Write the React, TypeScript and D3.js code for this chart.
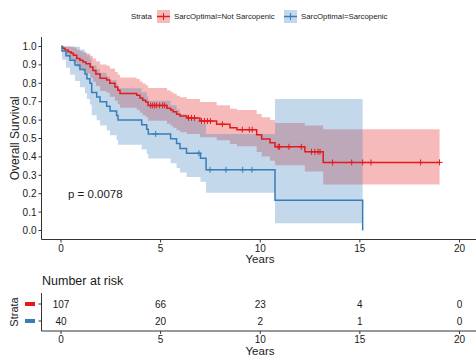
import React from "react";
import * as d3 from "d3";

// ---- Data ----
const notTimes = [0, 0.08, 0.2, 0.35, 0.5, 0.62, 0.79, 0.95, 1.1, 1.25, 1.46, 1.6, 1.75, 1.96, 2.29, 2.45, 2.71, 2.85, 2.96, 3.8, 3.96, 4.1, 4.25, 4.37, 5.32, 5.5, 5.62, 5.8, 5.97, 6.32, 6.97, 7.81, 8.48, 8.83, 9.82, 10.07, 10.49, 10.74, 12.24, 13.16];
const notSurv = [1, 0.991, 0.981, 0.972, 0.963, 0.953, 0.935, 0.925, 0.916, 0.906, 0.888, 0.869, 0.85, 0.827, 0.818, 0.8, 0.78, 0.762, 0.745, 0.735, 0.72, 0.708, 0.698, 0.68, 0.665, 0.655, 0.645, 0.632, 0.622, 0.612, 0.595, 0.578, 0.558, 0.548, 0.52, 0.497, 0.477, 0.455, 0.428, 0.37];
const notUpper = [1, 1, 1, 1, 0.999, 0.994, 0.983, 0.976, 0.969, 0.962, 0.95, 0.935, 0.92, 0.902, 0.895, 0.88, 0.862, 0.846, 0.832, 0.823, 0.81, 0.799, 0.79, 0.774, 0.762, 0.754, 0.745, 0.733, 0.724, 0.715, 0.698, 0.681, 0.662, 0.655, 0.633, 0.615, 0.6, 0.584, 0.571, 0.55];
const notLower = [1, 0.973, 0.956, 0.941, 0.928, 0.914, 0.889, 0.877, 0.866, 0.853, 0.83, 0.808, 0.786, 0.758, 0.748, 0.727, 0.705, 0.686, 0.667, 0.656, 0.64, 0.627, 0.616, 0.597, 0.58, 0.569, 0.558, 0.545, 0.534, 0.524, 0.507, 0.49, 0.47, 0.458, 0.427, 0.402, 0.379, 0.355, 0.321, 0.25];
const notEnd = 19.0;
const notCensor = [4.5, 4.6, 4.7, 4.8, 4.95, 5.1, 5.2, 6.4, 6.55, 6.7, 7.05, 7.2, 7.35, 7.5, 8.1, 9.1, 9.45, 9.6, 10.9, 10.97, 11.44, 12.06, 12.57, 12.74, 12.9, 13.0, 13.63, 14.59, 15.14, 15.56, 18.05, 19.0];

const sarcTimes = [0, 0.05, 0.25, 0.45, 0.7, 0.95, 1.2, 1.3, 1.45, 1.54, 1.79, 1.96, 2.29, 2.46, 2.79, 2.86, 4.05, 4.3, 4.38, 5.5, 5.8, 5.97, 6.3, 7.0, 7.28, 10.74];
const sarcSurv = [1, 0.975, 0.95, 0.925, 0.9, 0.875, 0.85, 0.825, 0.8, 0.75, 0.725, 0.7, 0.675, 0.65, 0.625, 0.6, 0.575, 0.55, 0.525, 0.499, 0.4725, 0.446, 0.42, 0.392, 0.33, 0.165];
const sarcUpper = [1, 1, 1, 1, 0.998, 0.984, 0.968, 0.952, 0.934, 0.897, 0.877, 0.857, 0.837, 0.816, 0.795, 0.773, 0.751, 0.728, 0.705, 0.681, 0.657, 0.632, 0.606, 0.58, 0.525, 0.715];
const sarcLower = [1, 0.928, 0.885, 0.847, 0.812, 0.778, 0.746, 0.715, 0.685, 0.627, 0.599, 0.571, 0.544, 0.518, 0.492, 0.466, 0.44, 0.416, 0.391, 0.365, 0.34, 0.315, 0.291, 0.265, 0.205, 0.04];
const sarcEnd = 15.14;
const sarcEndSurv = 0;
const sarcCensor = [4.75, 6.92, 7.48, 8.28, 9.12, 9.58];

const xTicks = [0, 5, 10, 15, 20];
const yTicks = [0, 0.1, 0.2, 0.3, 0.4, 0.5, 0.6, 0.7, 0.8, 0.9, 1.0];
const riskTimes = [0, 5, 10, 15, 20];
const riskNot = [107, 66, 23, 4, 0];
const riskSarc = [40, 20, 2, 1, 0];
const legendLabels = ["SarcOptimal=Not Sarcopenic", "SarcOptimal=Sarcopenic"];
const pValueText = "p = 0.0078";

const RED = "#E41A1C";
const BLUE = "#377EB8";
const FONT = "'Liberation Sans', Arial, sans-serif";
const TXT = "#1a1a1a";

type Pt = { t: number; s: number; u: number; l: number };

function buildPts(times: number[], surv: number[], up: number[], lo: number[], end: number): Pt[] {
  const pts: Pt[] = times.map((t, i) => ({ t, s: surv[i], u: up[i], l: lo[i] }));
  const last = pts[pts.length - 1];
  pts.push({ t: end, s: last.s, u: last.u, l: last.l });
  return pts;
}

function survAt(times: number[], surv: number[], t: number) {
  let s = surv[0];
  for (let i = 0; i < times.length; i++) if (times[i] <= t) s = surv[i];
  return s;
}

export default function App() {
  const W = 476, H = 357;
  const x = d3.scaleLinear().domain([-1, 21]).range([41.1, 479.4]);
  const y = d3.scaleLinear().domain([0, 1]).range([230.5, 46.5]);
  const axisX = 41.5;
  const axisY = 239.5;

  const notPts = buildPts(notTimes, notSurv, notUpper, notLower, notEnd);
  const sarcPts = buildPts(sarcTimes, sarcSurv, sarcUpper, sarcLower, sarcEnd);

  const area = d3.area<Pt>().x(d => x(d.t)).y0(d => y(d.l)).y1(d => y(d.u)).curve(d3.curveStepAfter);
  const line = d3.line<Pt>().x(d => x(d.t)).y(d => y(d.s)).curve(d3.curveStepAfter);

  const sarcLinePts = [...sarcPts, { t: sarcEnd, s: sarcEndSurv, u: 0, l: 0 }];

  const cross = (cx: number, cy: number, color: string, key: string) => (
    <g key={key} stroke={color} strokeWidth={1}>
      <line x1={cx - 3} x2={cx + 3} y1={cy} y2={cy} />
      <line x1={cx} x2={cx} y1={cy - 3} y2={cy + 3} />
    </g>
  );

  const ry0 = 331;
  const LF = 7.8;

  return (
    <svg width={W} height={H} style={{ position: "absolute", left: 0, top: 0, background: "#fff" }} fontFamily={FONT}>
      {/* Legend */}
      <text x={131} y={16} fontSize={LF} fill={TXT} dominantBaseline="central">Strata</text>
      <rect x={157} y={10} width={13} height={13} fill={RED} fillOpacity={0.3} />
      <line x1={157} x2={170} y1={16.5} y2={16.5} stroke={RED} strokeWidth={1.5} />
      <line x1={163.5} x2={163.5} y1={13} y2={20} stroke={RED} strokeWidth={1} />
      <text x={174} y={16} fontSize={LF} fill={TXT} dominantBaseline="central">{legendLabels[0]}</text>
      <rect x={284} y={10} width={13} height={13} fill={BLUE} fillOpacity={0.3} />
      <line x1={284} x2={297} y1={16.5} y2={16.5} stroke={BLUE} strokeWidth={1.5} />
      <line x1={290.5} x2={290.5} y1={13} y2={20} stroke={BLUE} strokeWidth={1} />
      <text x={301} y={16} fontSize={LF} fill={TXT} dominantBaseline="central">{legendLabels[1]}</text>

      {/* Confidence bands */}
      <path d={area(notPts) || ""} fill={RED} fillOpacity={0.3} />
      <path d={area(sarcPts) || ""} fill={BLUE} fillOpacity={0.3} />

      {/* Curves */}
      <path d={line(notPts) || ""} fill="none" stroke={RED} strokeWidth={1.5} />
      <path d={line(sarcLinePts) || ""} fill="none" stroke={BLUE} strokeWidth={1.5} />
      {notCensor.map((t, i) => cross(x(t), y(survAt(notTimes, notSurv, t)), RED, "nc" + i))}
      {sarcCensor.map((t, i) => cross(x(t), y(survAt(sarcTimes, sarcSurv, t)), BLUE, "sc" + i))}

      {/* p value */}
      <text x={x(0.35)} y={y(0.2)} fontSize={11.5} fill={TXT} dominantBaseline="central">{pValueText}</text>

      {/* Y axis */}
      <line x1={axisX} x2={axisX} y1={37} y2={axisY} stroke="#333" strokeWidth={1} />
      {yTicks.map(v => (
        <g key={"yt" + v}>
          <line x1={axisX - 3} x2={axisX} y1={y(v)} y2={y(v)} stroke="#333" />
          <text x={axisX - 5} y={y(v)} fontSize={10} textAnchor="end" dominantBaseline="central" fill={TXT}>{v.toFixed(1)}</text>
        </g>
      ))}
      <text transform={`translate(15,${(37 + axisY) / 2}) rotate(-90)`} fontSize={12} textAnchor="middle" dominantBaseline="central" fill={TXT}>Overall Survival</text>

      {/* X axis */}
      <line x1={axisX} x2={476} y1={axisY} y2={axisY} stroke="#333" strokeWidth={1} />
      {xTicks.map(v => (
        <g key={"xt" + v}>
          <line x1={x(v)} x2={x(v)} y1={axisY} y2={axisY + 3} stroke="#333" />
          <text x={x(v)} y={axisY + 9} fontSize={10} textAnchor="middle" dominantBaseline="central" fill={TXT}>{v}</text>
        </g>
      ))}
      <text x={(41 + 479) / 2} y={259} fontSize={11.5} textAnchor="middle" dominantBaseline="central" fill={TXT}>Years</text>

      {/* Risk table */}
      <text x={42} y={281} fontSize={12.5} dominantBaseline="central" fill={TXT}>Number at risk</text>
      <line x1={axisX} x2={axisX} y1={293} y2={ry0} stroke="#333" />
      <line x1={axisX} x2={476} y1={ry0} y2={ry0} stroke="#333" />
      {riskTimes.map((t, i) => (
        <g key={"rt" + i}>
          <text x={x(t)} y={304} fontSize={10} textAnchor="middle" dominantBaseline="central" fill={TXT}>{riskNot[i]}</text>
          <text x={x(t)} y={321} fontSize={10} textAnchor="middle" dominantBaseline="central" fill={TXT}>{riskSarc[i]}</text>
          <line x1={x(t)} x2={x(t)} y1={ry0} y2={ry0 + 3} stroke="#333" />
          <text x={x(t)} y={ry0 + 8} fontSize={10} textAnchor="middle" dominantBaseline="central" fill={TXT}>{t}</text>
        </g>
      ))}
      <line x1={axisX - 3} x2={axisX} y1={304} y2={304} stroke="#333" />
      <line x1={axisX - 3} x2={axisX} y1={321} y2={321} stroke="#333" />
      <rect x={25} y={302} width={10} height={4} fill={RED} />
      <rect x={25} y={319} width={10} height={4} fill={BLUE} />
      <text transform={`translate(14,312) rotate(-90)`} fontSize={11} textAnchor="middle" dominantBaseline="central" fill={TXT}>Strata</text>
      <text x={(41 + 479) / 2} y={351} fontSize={11.5} textAnchor="middle" dominantBaseline="central" fill={TXT}>Years</text>
    </svg>
  );
}
